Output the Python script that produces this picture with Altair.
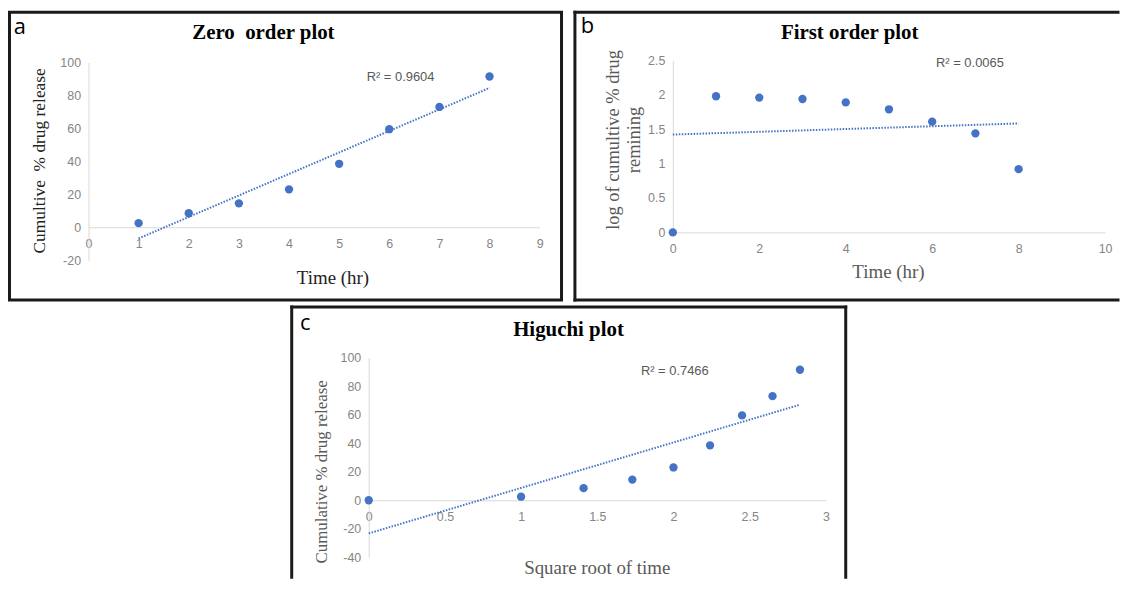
import altair as alt
import pandas as pd

# ---------------- data ----------------
# (a) Zero order plot
time_a = [1, 2, 3, 4, 5, 6, 7, 8]
release_a = [2.5, 8.5, 14.5, 23, 38.5, 59.5, 73, 91.5]
# (b) First order plot
time_b = [0, 1, 2, 3, 4, 5, 6, 7, 8]
logrem_b = [0, 1.98, 1.96, 1.94, 1.89, 1.79, 1.61, 1.44, 0.92]
# (c) Higuchi plot
sqrt_time_c = [0, 1, 1.41, 1.73, 2, 2.24, 2.45, 2.65, 2.83]
release_c = [0, 2.5, 8.5, 14.5, 23, 38.5, 59.5, 73, 91.5]

titles = ["Zero\u00a0 order plot", "First order plot", "Higuchi plot"]
letters = ["a", "b", "c"]
r2_labels = ["R² = 0.9604", "R² = 0.0065", "R² = 0.7466"]
x_titles = ["Time (hr)", "Time (hr)", "Square root of time"]
y_titles = ["Cumultive\u00a0 % drug release",
            ["log of cumultive % drug", "remining"],
            "Cumulative % drug release"]

xticks_a = [0, 1, 2, 3, 4, 5, 6, 7, 8, 9]
yticks_a = [-20, 0, 20, 40, 60, 80, 100]
xticks_b = [0, 2, 4, 6, 8, 10]
yticks_b = [0, 0.5, 1, 1.5, 2, 2.5]
xticks_c = [0, 0.5, 1, 1.5, 2, 2.5, 3]
yticks_c = [-40, -20, 0, 20, 40, 60, 80, 100]

# ---------------- style ----------------
W, H = 1119, 572
BLUE = "#4472C4"
BORDER = "#1a1a1a"
SERIF = "Liberation Serif"
SANS = "Liberation Sans"
ONE = pd.DataFrame({"k": [0]})
LABEL_EXPR = ("datum.value < 0 ? '-' + format(-datum.value, '~g') "
              ": format(datum.value, '~g')")


def txt(text, x, y, size, font=SERIF, weight="normal", color="#262626",
        angle=0, line_height=None):
    kw = dict(text=text, font=font, fontSize=size, fontWeight=weight,
              color=color, angle=angle, align="center", baseline="middle")
    if line_height:
        kw["lineHeight"] = line_height
    return alt.Chart(ONE).mark_text(**kw).encode(
        x=alt.value(x), y=alt.value(y))


def rule(x, x2, y, y2):
    return alt.Chart(ONE).mark_rule(color=BORDER, strokeWidth=3,
                                    strokeCap="square").encode(
        x=alt.value(x), x2=alt.value(x2), y=alt.value(y), y2=alt.value(y2))


def axis(values, orient, offset, pad):
    return alt.Axis(values=values, orient=orient, offset=offset, grid=False,
                    ticks=False, domainColor="#d9d9d9", domainWidth=1,
                    labelColor="#858585", labelFont=SANS, labelFontSize=12.5,
                    labelPadding=pad, labelOverlap=False, labelFlush=False,
                    labelExpr=LABEL_EXPR, title=None)


def scatter(xs, ys, xdom, xrange, ydom, yrange, xt, yt):
    df = pd.DataFrame({"x": xs, "y": ys})
    # pixel row of the value 0 on the y scale -> x axis sits there
    zero_y = yrange[0] + (yrange[1] - yrange[0]) * (0 - ydom[0]) / (ydom[1] - ydom[0])
    xe = alt.X("x:Q", scale=alt.Scale(domain=xdom, range=xrange, nice=False,
                                      zero=False),
               axis=axis(xt, "bottom", zero_y - H, 10))
    ye = alt.Y("y:Q", scale=alt.Scale(domain=ydom, range=yrange, nice=False,
                                      zero=False),
               axis=axis(yt, "left", -xrange[0], 8))
    pts = alt.Chart(df).mark_circle(size=70, color=BLUE, opacity=1).encode(
        x=xe, y=ye)
    trend = alt.Chart(df).transform_regression("x", "y").mark_line(
        color=BLUE, strokeWidth=2, strokeDash=[1.5, 1.5]).encode(x=xe, y=ye)
    return alt.layer(trend, pts)


# ---------------- panel a ----------------
border_a = alt.Chart(ONE).mark_rect(filled=False, stroke=BORDER,
                                    strokeWidth=3).encode(
    x=alt.value(1.5), x2=alt.value(557), y=alt.value(1.5), y2=alt.value(291))
deco_a = [
    border_a,
    txt(titles[0], 257, 22, 21, weight="bold", color="black"),
    txt(letters[0], 12, 16, 22, font="Open Sans", color="black"),
    txt(y_titles[0], 32, 151, 17.5, angle=270, color="#222222"),
    txt(x_titles[0], 327, 269, 19, color="#222222"),
    txt(r2_labels[0], 395, 67, 13, font=SANS, color="#595959"),
]
plot_a = scatter(time_a, release_a, [0, 9], [81, 535], [-20, 100], [251, 52],
                 xticks_a, yticks_a)

# ---------------- panel b ----------------
deco_b = [
    rule(570.5, 1117, 1.5, 1.5),
    rule(570.5, 1117, 291, 291),
    rule(570.5, 570.5, 1.5, 291),
    txt(titles[1], 847, 22, 21, weight="bold", color="black"),
    txt(letters[1], 583, 15, 22, font="Open Sans", color="black"),
    txt(y_titles[1], 609, 130, 18.5, angle=270, color="#595959", line_height=21),
    txt(x_titles[1], 886, 263, 19, color="#595959"),
    txt(r2_labels[1], 968, 53, 13, font=SANS, color="#595959"),
]
plot_b = scatter(time_b, logrem_b, [0, 10], [669, 1104], [0, 2.5], [223, 50],
                 xticks_b, yticks_b)

# ---------------- panel c ----------------
deco_c = [
    rule(285.5, 843, 298, 298),
    rule(285.5, 285.5, 298, 570),
    rule(843, 843, 298, 570),
    txt(titles[2], 564, 321, 21, weight="bold", color="black"),
    txt(letters[2], 299, 314, 22, font="Open Sans", color="black"),
    txt(y_titles[2], 316, 464, 17, angle=270, color="#595959"),
    txt(x_titles[2], 593, 561, 19, color="#595959"),
    txt(r2_labels[2], 671, 362, 13, font=SANS, color="#595959"),
]
plot_c = scatter(sqrt_time_c, release_c, [0, 3], [363, 823], [-40, 100],
                 [550, 349], xticks_c, yticks_c)

chart = alt.layer(
    *deco_a, *deco_b, *deco_c, plot_a, plot_b, plot_c
).resolve_scale(
    x="independent", y="independent"
).properties(
    width=W, height=H, padding=0, background="white"
).configure_view(stroke=None)

chart.save("out.html", embed_options={"renderer": "svg", "actions": False})
